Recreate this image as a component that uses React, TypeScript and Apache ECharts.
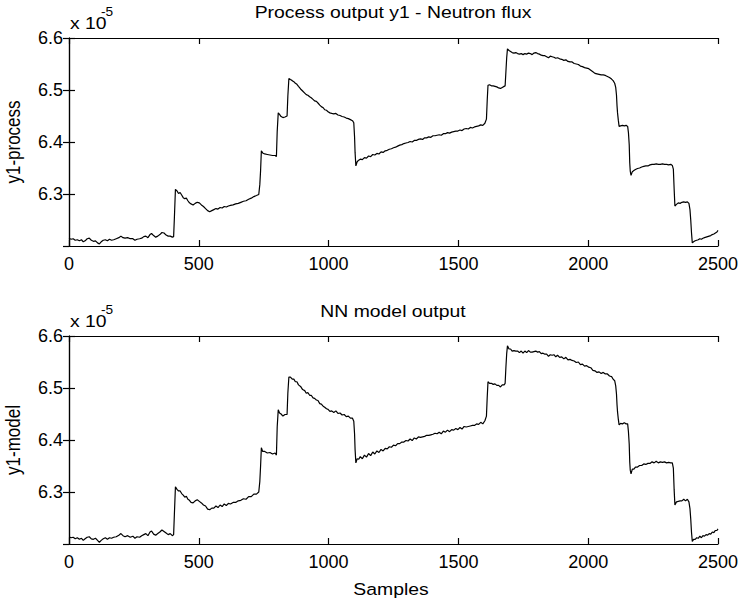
import React, { useEffect, useRef } from "react";
import * as echarts from "echarts";

// values are in units of 1e-5
const processPoints: number[][] = [
  [0,6.215],[8,6.213],[16,6.214],[24,6.211],[32,6.212],[40,6.210],[48,6.212],[55,6.208],[62,6.210],[70,6.214],[78,6.215],[86,6.211],[94,6.209],[102,6.210],[110,6.206],[117,6.204],[124,6.208],[132,6.211],[140,6.212],[148,6.210],[156,6.213],[164,6.211],[172,6.212],[182,6.214],[192,6.216],[200,6.219],[208,6.216],[216,6.215],[226,6.216],[236,6.214],[246,6.214],[254,6.211],[262,6.213],[272,6.214],[280,6.215],[288,6.218],[296,6.219],[304,6.216],[312,6.222],[318,6.224],[326,6.220],[334,6.217],[342,6.219],[350,6.222],[358,6.226],[366,6.225],[374,6.221],[382,6.219],[390,6.219],[398,6.217],[403,6.218],[406,6.255],[410,6.309],[416,6.306],[422,6.301],[428,6.303],[434,6.298],[440,6.293],[446,6.291],[452,6.292],[458,6.287],[464,6.283],[470,6.281],[478,6.279],[486,6.282],[494,6.284],[502,6.283],[510,6.279],[518,6.276],[526,6.272],[534,6.268],[542,6.266],[550,6.268],[558,6.270],[566,6.272],[574,6.271],[582,6.274],[590,6.273],[598,6.276],[606,6.275],[614,6.277],[622,6.278],[632,6.279],[642,6.281],[652,6.282],[662,6.284],[672,6.286],[682,6.287],[692,6.290],[702,6.292],[712,6.295],[722,6.297],[731,6.299],[735,6.318],[738,6.345],[741,6.383],[746,6.379],[754,6.377],[764,6.376],[774,6.375],[784,6.374],[794,6.374],[799,6.372],[802,6.420],[806,6.456],[811,6.453],[817,6.449],[824,6.447],[832,6.448],[840,6.450],[843,6.488],[847,6.522],[853,6.520],[860,6.518],[866,6.516],[872,6.513],[878,6.511],[884,6.507],[892,6.502],[900,6.498],[908,6.494],[914,6.491],[920,6.490],[927,6.487],[933,6.485],[940,6.482],[946,6.479],[953,6.478],[959,6.475],[966,6.471],[972,6.468],[979,6.466],[985,6.462],[992,6.461],[998,6.458],[1005,6.456],[1012,6.455],[1020,6.454],[1028,6.455],[1036,6.452],[1044,6.451],[1052,6.449],[1060,6.448],[1068,6.446],[1076,6.445],[1084,6.443],[1092,6.441],[1097,6.437],[1100,6.410],[1102,6.380],[1105,6.354],[1110,6.362],[1116,6.365],[1122,6.367],[1130,6.366],[1138,6.370],[1146,6.369],[1154,6.373],[1162,6.372],[1170,6.376],[1178,6.375],[1186,6.378],[1194,6.377],[1202,6.381],[1210,6.380],[1218,6.383],[1226,6.384],[1234,6.386],[1242,6.387],[1250,6.389],[1258,6.390],[1266,6.392],[1274,6.394],[1282,6.395],[1290,6.397],[1298,6.398],[1306,6.399],[1314,6.401],[1322,6.400],[1330,6.403],[1338,6.403],[1346,6.405],[1354,6.406],[1362,6.405],[1370,6.408],[1378,6.408],[1386,6.410],[1394,6.409],[1402,6.412],[1410,6.412],[1418,6.413],[1426,6.414],[1434,6.413],[1442,6.416],[1450,6.416],[1458,6.418],[1466,6.417],[1474,6.419],[1482,6.420],[1490,6.421],[1498,6.421],[1506,6.423],[1514,6.422],[1522,6.425],[1530,6.426],[1538,6.425],[1546,6.428],[1554,6.427],[1562,6.429],[1570,6.430],[1578,6.431],[1586,6.433],[1594,6.432],[1602,6.436],[1608,6.444],[1611,6.480],[1614,6.509],[1620,6.510],[1627,6.508],[1634,6.508],[1641,6.507],[1648,6.506],[1655,6.504],[1662,6.503],[1669,6.505],[1676,6.507],[1680,6.508],[1683,6.535],[1686,6.562],[1689,6.579],[1695,6.576],[1701,6.574],[1707,6.572],[1714,6.571],[1721,6.572],[1728,6.570],[1735,6.569],[1742,6.570],[1749,6.568],[1756,6.570],[1763,6.569],[1770,6.571],[1777,6.570],[1784,6.568],[1791,6.571],[1798,6.572],[1805,6.570],[1812,6.569],[1819,6.567],[1826,6.566],[1833,6.566],[1840,6.564],[1847,6.562],[1854,6.565],[1861,6.564],[1868,6.563],[1875,6.561],[1882,6.562],[1890,6.560],[1898,6.559],[1906,6.557],[1914,6.558],[1922,6.555],[1930,6.554],[1938,6.554],[1946,6.551],[1954,6.550],[1962,6.549],[1970,6.546],[1978,6.545],[1986,6.543],[1994,6.542],[2002,6.541],[2010,6.538],[2018,6.535],[2026,6.532],[2034,6.531],[2042,6.530],[2050,6.529],[2058,6.529],[2066,6.528],[2074,6.526],[2082,6.524],[2090,6.521],[2096,6.518],[2102,6.513],[2106,6.505],[2109,6.490],[2111,6.470],[2113,6.456],[2116,6.442],[2119,6.430],[2125,6.431],[2132,6.432],[2139,6.431],[2146,6.432],[2152,6.430],[2155,6.418],[2158,6.395],[2160,6.360],[2162,6.344],[2165,6.336],[2170,6.343],[2176,6.345],[2182,6.347],[2190,6.349],[2198,6.350],[2206,6.352],[2214,6.353],[2222,6.354],[2230,6.354],[2238,6.356],[2246,6.357],[2254,6.357],[2262,6.358],[2270,6.357],[2278,6.357],[2286,6.358],[2294,6.357],[2302,6.357],[2310,6.356],[2318,6.357],[2324,6.355],[2328,6.348],[2331,6.310],[2334,6.277],[2340,6.280],[2347,6.283],[2354,6.282],[2361,6.284],[2368,6.285],[2375,6.284],[2382,6.285],[2388,6.282],[2392,6.270],[2395,6.250],[2398,6.225],[2401,6.206],[2406,6.208],[2412,6.210],[2418,6.211],[2424,6.212],[2430,6.214],[2436,6.213],[2442,6.215],[2448,6.216],[2454,6.217],[2460,6.218],[2466,6.219],[2472,6.220],[2478,6.222],[2484,6.223],[2490,6.225],[2496,6.227],[2500,6.230]
];

const modelPoints: number[][] = [
  [0,6.214],[8,6.212],[16,6.213],[24,6.210],[32,6.212],[40,6.209],[48,6.211],[55,6.207],[62,6.210],[70,6.213],[78,6.214],[86,6.210],[94,6.209],[102,6.211],[110,6.207],[117,6.203],[124,6.207],[132,6.210],[140,6.212],[148,6.209],[156,6.212],[164,6.211],[172,6.213],[182,6.214],[192,6.217],[200,6.220],[208,6.216],[216,6.214],[226,6.216],[236,6.213],[246,6.215],[254,6.211],[262,6.214],[272,6.213],[280,6.216],[288,6.218],[296,6.220],[304,6.216],[312,6.223],[318,6.225],[326,6.219],[334,6.217],[342,6.220],[350,6.223],[358,6.227],[366,6.224],[374,6.221],[382,6.218],[390,6.220],[398,6.216],[403,6.218],[406,6.258],[410,6.310],[416,6.305],[422,6.302],[428,6.302],[434,6.297],[440,6.294],[446,6.290],[452,6.292],[458,6.286],[464,6.284],[470,6.280],[478,6.279],[486,6.283],[494,6.285],[502,6.282],[510,6.279],[518,6.275],[526,6.273],[534,6.267],[542,6.266],[550,6.269],[558,6.269],[566,6.273],[574,6.270],[582,6.275],[590,6.272],[598,6.277],[606,6.274],[614,6.278],[622,6.277],[632,6.280],[642,6.280],[652,6.283],[662,6.284],[672,6.287],[682,6.286],[692,6.291],[702,6.291],[712,6.296],[722,6.296],[731,6.300],[735,6.320],[738,6.350],[741,6.385],[746,6.378],[754,6.378],[764,6.375],[774,6.376],[784,6.373],[794,6.375],[799,6.371],[802,6.425],[806,6.458],[811,6.452],[817,6.450],[824,6.446],[832,6.449],[840,6.449],[843,6.490],[847,6.521],[853,6.521],[860,6.517],[866,6.517],[872,6.512],[878,6.512],[884,6.506],[892,6.503],[900,6.497],[908,6.495],[914,6.490],[920,6.491],[927,6.486],[933,6.486],[940,6.481],[946,6.480],[953,6.477],[959,6.476],[966,6.470],[972,6.469],[979,6.465],[985,6.463],[992,6.460],[998,6.459],[1005,6.455],[1012,6.456],[1020,6.453],[1028,6.456],[1036,6.451],[1044,6.452],[1052,6.448],[1060,6.449],[1068,6.445],[1076,6.446],[1084,6.442],[1092,6.442],[1097,6.436],[1100,6.412],[1102,6.382],[1105,6.356],[1110,6.364],[1116,6.363],[1122,6.368],[1130,6.364],[1138,6.371],[1146,6.367],[1154,6.374],[1162,6.370],[1170,6.377],[1178,6.373],[1186,6.379],[1194,6.376],[1202,6.382],[1210,6.379],[1218,6.384],[1226,6.383],[1234,6.387],[1242,6.386],[1250,6.390],[1258,6.389],[1266,6.393],[1274,6.393],[1282,6.396],[1290,6.396],[1298,6.399],[1306,6.398],[1314,6.402],[1322,6.399],[1330,6.404],[1338,6.402],[1346,6.406],[1354,6.405],[1362,6.406],[1370,6.407],[1378,6.409],[1386,6.409],[1394,6.410],[1402,6.411],[1410,6.413],[1418,6.412],[1426,6.415],[1434,6.412],[1442,6.417],[1450,6.415],[1458,6.419],[1466,6.416],[1474,6.420],[1482,6.419],[1490,6.422],[1498,6.420],[1506,6.424],[1514,6.421],[1522,6.426],[1530,6.425],[1538,6.426],[1546,6.427],[1554,6.428],[1562,6.428],[1570,6.431],[1578,6.430],[1586,6.434],[1594,6.431],[1602,6.437],[1608,6.446],[1611,6.482],[1614,6.512],[1620,6.509],[1627,6.509],[1634,6.507],[1641,6.508],[1648,6.505],[1655,6.505],[1662,6.502],[1669,6.506],[1676,6.506],[1680,6.509],[1683,6.540],[1686,6.566],[1689,6.581],[1695,6.575],[1701,6.575],[1707,6.571],[1714,6.572],[1721,6.571],[1728,6.571],[1735,6.568],[1742,6.571],[1749,6.567],[1756,6.571],[1763,6.568],[1770,6.572],[1777,6.569],[1784,6.569],[1791,6.570],[1798,6.571],[1805,6.569],[1812,6.570],[1819,6.566],[1826,6.567],[1833,6.565],[1840,6.565],[1847,6.561],[1854,6.564],[1861,6.563],[1868,6.564],[1875,6.560],[1882,6.563],[1890,6.559],[1898,6.560],[1906,6.556],[1914,6.559],[1922,6.554],[1930,6.555],[1938,6.553],[1946,6.552],[1954,6.549],[1962,6.550],[1970,6.545],[1978,6.546],[1986,6.542],[1994,6.543],[2002,6.540],[2010,6.539],[2018,6.534],[2026,6.533],[2034,6.530],[2042,6.531],[2050,6.528],[2058,6.530],[2066,6.527],[2074,6.527],[2082,6.523],[2090,6.522],[2096,6.517],[2102,6.514],[2106,6.504],[2109,6.488],[2111,6.468],[2113,6.454],[2116,6.440],[2119,6.429],[2125,6.432],[2132,6.431],[2139,6.433],[2146,6.431],[2152,6.431],[2155,6.416],[2158,6.392],[2160,6.358],[2162,6.342],[2165,6.335],[2170,6.344],[2176,6.344],[2182,6.348],[2190,6.348],[2198,6.351],[2206,6.351],[2214,6.354],[2222,6.353],[2230,6.355],[2238,6.355],[2246,6.358],[2254,6.356],[2262,6.359],[2270,6.356],[2278,6.358],[2286,6.357],[2294,6.358],[2302,6.356],[2310,6.357],[2318,6.356],[2324,6.356],[2328,6.346],[2331,6.305],[2334,6.275],[2340,6.281],[2347,6.282],[2354,6.283],[2361,6.283],[2368,6.286],[2375,6.283],[2382,6.286],[2388,6.281],[2392,6.268],[2395,6.248],[2398,6.222],[2401,6.205],[2406,6.209],[2412,6.209],[2418,6.212],[2424,6.211],[2430,6.215],[2436,6.212],[2442,6.216],[2448,6.215],[2454,6.218],[2460,6.217],[2466,6.220],[2472,6.219],[2478,6.223],[2484,6.222],[2490,6.226],[2496,6.226],[2500,6.229]
];

const xTicks = { min: 0, max: 2500, interval: 500 };
const yTicks = { min: 6.2, max: 6.6, interval: 0.1 };

const titles = ["Process output y1 - Neutron flux", "NN model output"];
const yNames = ["y1-process", "y1-model"];
const xName = "Samples";
const exponentBase = "x 10";
const exponentPower = "-5";

const FONT = "Liberation Sans, Arial, Helvetica, sans-serif";
const FS = 18;
const TFS = 17;
const SX = 1.14;

export default function App() {
  const ref = useRef<HTMLDivElement>(null);
  useEffect(() => {
    if (!ref.current) return;
    const chart = echarts.init(ref.current, null, { renderer: "svg" });
    const grids = [
      { left: 69, width: 649, top: 38, height: 208 },
      { left: 69, width: 649, top: 336, height: 208 },
    ];
    const lineStyle = { color: "#000", width: 1.2 };
    const xAxis: any[] = [];
    const yAxis: any[] = [];
    grids.forEach((_, i) => {
      xAxis.push({
        type: "value", gridIndex: i, position: "bottom", ...xTicks,
        axisLine: { show: true, lineStyle }, splitLine: { show: false },
        axisTick: { show: true, inside: true, length: 6, lineStyle },
        axisLabel: { show: true, color: "#000", fontFamily: FONT, fontSize: FS, margin: 9, formatter: (v: number) => String(v) },
      });
      xAxis.push({
        type: "value", gridIndex: i, position: "top", ...xTicks,
        axisLine: { show: true, lineStyle }, splitLine: { show: false },
        axisTick: { show: true, inside: true, length: 6, lineStyle },
        axisLabel: { show: false },
      });
      yAxis.push({
        type: "value", gridIndex: i, position: "left", ...yTicks,
        axisLine: { show: true, lineStyle }, splitLine: { show: false },
        axisTick: { show: true, inside: true, length: 6, lineStyle },
        axisLabel: { show: true, showMinLabel: false, color: "#000", fontFamily: FONT, fontSize: FS, margin: 6, formatter: (v: number) => v.toFixed(1) },
      });
      yAxis.push({
        type: "value", gridIndex: i, position: "right", ...yTicks,
        axisLine: { show: true, lineStyle }, splitLine: { show: false },
        axisTick: { show: true, inside: true, length: 6, lineStyle },
        axisLabel: { show: false },
      });
    });
    const txt = (t: string, x: number, y: number, opts: any = {}) => ({
      type: "text", x, y, scaleX: opts.rotation ? 1 : SX, scaleY: opts.rotation ? SX : 1, rotation: opts.rotation || 0,
      style: { text: t, fill: "#000", font: `${opts.size || TFS}px ${FONT}`, textAlign: opts.align || "center", textVerticalAlign: "middle" },
    });
    const graphic: any[] = [
      txt(titles[0], 393, 12),
      txt(titles[1], 393, 311),
      txt(xName, 391, 589),
      txt(yNames[0], 14, 142, { rotation: Math.PI / 2 }),
      txt(yNames[1], 14, 440, { rotation: Math.PI / 2 }),
    ];
    [38, 336].forEach((top) => {
      graphic.push(txt(exponentBase, 70, top - 14.5, { align: "left" }));
      graphic.push(txt(exponentPower, 101, top - 26, { align: "left", size: 12 }));
    });
    chart.setOption({
      animation: false,
      backgroundColor: "#fff",
      grid: grids,
      xAxis,
      yAxis,
      graphic,
      series: [
        { type: "line", xAxisIndex: 0, yAxisIndex: 0, data: processPoints, showSymbol: false, lineStyle: { color: "#000", width: 1.2 }, silent: true },
        { type: "line", xAxisIndex: 2, yAxisIndex: 2, data: modelPoints, showSymbol: false, lineStyle: { color: "#000", width: 1.2 }, silent: true },
      ],
    });
    return () => chart.dispose();
  }, []);
  return <div ref={ref} style={{ width: 742, height: 603, position: "absolute", left: 0, top: 0 }} />;
}
